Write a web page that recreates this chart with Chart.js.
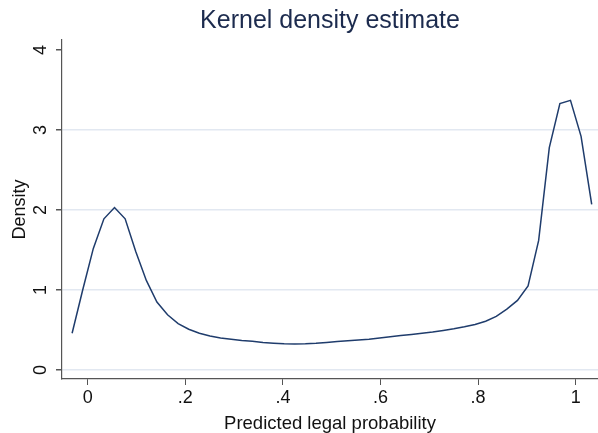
<!DOCTYPE html>
<html lang="en">

<head>
  <meta charset="UTF-8">
  <title>Kernel density estimate</title>
  <style>
    html, body { margin: 0; padding: 0; background: #fff; }
    #wrap { width: 598px; height: 433px; }
  </style>
</head>

<body>
  <div id="wrap"><canvas id="chart" width="598" height="433"></canvas></div>

  <script src="https://cdn.jsdelivr.net/npm/chart.js@4/dist/chart.umd.min.js"></script>

  <script>
    // evaluation points of the density (50 points)
    const xGrid = [
      -0.0320, -0.0103, 0.0115, 0.0332, 0.0549, 0.0767, 0.0984, 0.1201, 0.1418, 0.1636,
      0.1853, 0.2070, 0.2288, 0.2505, 0.2722, 0.2940, 0.3157, 0.3374, 0.3591, 0.3809,
      0.4026, 0.4243, 0.4461, 0.4678, 0.4895, 0.5113, 0.5330, 0.5547, 0.5764, 0.5982,
      0.6199, 0.6416, 0.6634, 0.6851, 0.7068, 0.7286, 0.7503, 0.7720, 0.7937, 0.8155,
      0.8372, 0.8589, 0.8807, 0.9024, 0.9241, 0.9459, 0.9676, 0.9893, 1.0110, 1.0328
    ]
    const density = [
      0.46, 1.00, 1.52, 1.89, 2.03, 1.89, 1.48, 1.12, 0.85, 0.69,
      0.58, 0.51, 0.46, 0.425, 0.40, 0.385, 0.37, 0.36, 0.345, 0.335,
      0.327, 0.325, 0.328, 0.335, 0.345, 0.355, 0.365, 0.375, 0.385, 0.40,
      0.415, 0.43, 0.445, 0.46, 0.475, 0.495, 0.515, 0.54, 0.57, 0.61,
      0.67, 0.76, 0.87, 1.05, 1.62, 2.78, 3.33, 3.37, 2.92, 2.07
    ]
    const xTicks = [0, 0.2, 0.4, 0.6, 0.8, 1]
    const xTickLabels = ['0', '.2', '.4', '.6', '.8', '1']
    const yTicks = [0, 1, 2, 3, 4]
    const yTickLabels = ['0', '1', '2', '3', '4']

    const font = 'Liberation Sans, Arial, sans-serif'
    const axisColor = '#555'
    const gridColor = '#e2e8f1'

    const points = xGrid.map((x, i) => ({ x: x, y: density[i] }))

    new Chart(document.getElementById('chart'), {
      type: 'line',
      data: {
        datasets: [{
          data: points,
          borderColor: '#1f3c6c',
          borderWidth: 1.5,
          pointRadius: 0,
          tension: 0,
          fill: false
        }]
      },
      options: {
        responsive: false,
        animation: false,
        layout: { padding: 0 },
        plugins: {
          legend: { display: false },
          tooltip: { enabled: false },
          title: {
            display: true,
            text: 'Kernel density estimate',
            fullSize: false,
            color: '#1c2b4e',
            font: { family: font, size: 25, weight: 'normal', lineHeight: 1.2 },
            padding: { top: 6, bottom: 4 }
          }
        },
        scales: {
          x: {
            type: 'linear',
            min: -0.0527,
            max: 1.0457,
            afterBuildTicks: s => { s.ticks = xTicks.map(v => ({ value: v })) },
            afterFit: s => { s.height = 54 },
            ticks: {
              color: '#111',
              padding: 2,
              font: { family: font, size: 18, lineHeight: 1.2 },
              callback: v => xTickLabels[xTicks.indexOf(v)]
            },
            grid: {
              drawOnChartArea: false,
              tickLength: 6,
              tickColor: axisColor
            },
            border: { color: axisColor, width: 1.2 },
            title: {
              display: true,
              text: 'Predicted legal probability',
              color: '#111',
              font: { family: font, size: 18.5, lineHeight: 1 },
              padding: { top: 0, bottom: 0 }
            }
          },
          y: {
            type: 'linear',
            min: -0.1125,
            max: 4.125,
            afterBuildTicks: s => { s.ticks = yTicks.map(v => ({ value: v })) },
            afterFit: s => { s.width = 62 },
            ticks: {
              color: '#111',
              padding: 10,
              minRotation: 90,
              maxRotation: 90,
              crossAlign: 'center',
              font: { family: font, size: 18, lineHeight: 1.2 },
              callback: v => yTickLabels[yTicks.indexOf(v)]
            },
            grid: {
              color: ctx => (ctx.tick && ctx.tick.value === 4) ? 'rgba(0,0,0,0)' : gridColor,
              lineWidth: 1.5,
              tickLength: 6,
              tickColor: axisColor
            },
            border: { color: axisColor, width: 1.2 },
            title: {
              display: true,
              text: 'Density',
              color: '#111',
              font: { family: font, size: 18, lineHeight: 1 },
              padding: { top: 11, bottom: 0 }
            }
          }
        }
      }
    })
  </script>
</body>

</html>
